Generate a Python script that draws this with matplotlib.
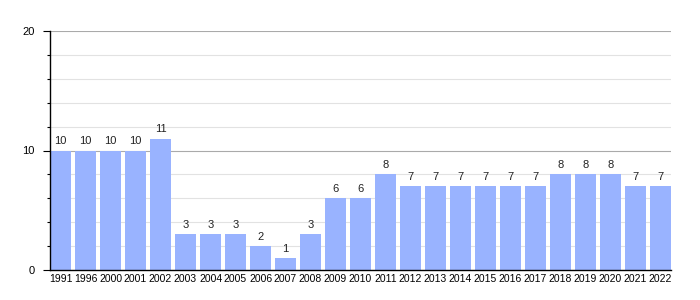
import numpy as np
import matplotlib
matplotlib.use("Agg")
import matplotlib.pyplot as plt
from matplotlib.ticker import MultipleLocator

plt.rcParams['font.family'] = ['Liberation Sans', 'DejaVu Sans']

# data
years = ['1991', '1996', '2000', '2001', '2002', '2003', '2004', '2005', '2006',
         '2007', '2008', '2009', '2010', '2011', '2012', '2013', '2014', '2015',
         '2016', '2017', '2018', '2019', '2020', '2021', '2022']
counts = [10, 10, 10, 10, 11, 3, 3, 3, 2, 1, 3, 6, 6, 8, 7, 7, 7, 7, 7, 7, 8, 8, 8, 7, 7]

bar_w = 0.84
fig = plt.figure(figsize=(7, 3), dpi=100)
ax = fig.add_axes([50 / 700, 30 / 300, 621 / 700, 239 / 300])

x = np.arange(len(years))
bars = ax.bar(x, counts, width=bar_w, align='edge', color='#99b3ff', zorder=2)

for xi, v in zip(x, counts):
    ax.text(xi + bar_w / 2, v + 0.35, str(v), ha='center', va='bottom',
            fontsize=8, color='#222222')

ax.set_xlim(0, len(years) - 1 + bar_w)
ax.set_ylim(0, 20)
ax.set_xticks(x + bar_w / 2)
ax.set_xticklabels(years, fontsize=7.5)
ax.tick_params(axis='x', length=0, pad=3)

ax.yaxis.set_major_locator(MultipleLocator(10))
ax.yaxis.set_minor_locator(MultipleLocator(2))
ax.tick_params(axis='y', which='major', length=5, width=0.8, labelsize=8, pad=6)
ax.tick_params(axis='y', which='minor', length=2, width=0.8)
ax.grid(axis='y', which='major', color='#aaaaaa', linewidth=0.8, zorder=0)
ax.grid(axis='y', which='minor', color='#e2e2e2', linewidth=0.8, zorder=0)

for s in ['top', 'right']:
    ax.spines[s].set_visible(False)
ax.spines['left'].set_linewidth(1)
ax.spines['bottom'].set_linewidth(1)

fig.savefig('out.png', dpi=100)
